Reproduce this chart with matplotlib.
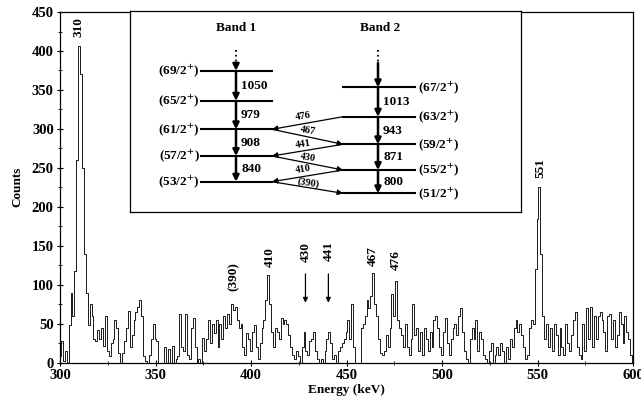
import numpy as np
import matplotlib.pyplot as plt
from matplotlib.ticker import MultipleLocator

plt.rcParams['font.family'] = 'Liberation Serif'
plt.rcParams['font.weight'] = 'bold'
plt.rcParams['mathtext.fontset'] = 'stix'

# spectrum, 1 keV bins from 300 to 600 keV
energy = np.arange(300, 601)
counts = [
    8, 28, 2, 15, 0, 48, 90, 60, 118, 260,
    407, 370, 250, 140, 90, 48, 75, 60, 30, 28,
    42, 30, 44, 22, 60, 15, 8, 25, 30, 55,
    45, 12, 0, 12, 28, 45, 67, 20, 35, 55,
    65, 72, 80, 60, 8, 2, 0, 10, 30, 50,
    30, 28, 0, 0, 0, 20, 0, 18, 0, 22,
    0, 5, 8, 62, 20, 15, 63, 10, 5, 45,
    58, 20, 0, 5, 0, 32, 15, 30, 55, 25,
    50, 38, 55, 20, 50, 30, 60, 45, 62, 50,
    75, 68, 72, 55, 45, 50, 20, 10, 38, 30,
    15, 40, 48, 20, 5, 25, 45, 55, 80, 112,
    75, 40, 20, 45, 40, 30, 58, 50, 55, 50,
    35, 20, 10, 5, 15, 8, 0, 20, 40, 15,
    10, 28, 30, 40, 15, 5, 0, 5, 0, 15,
    30, 40, 25, 5, 10, 0, 15, 20, 25, 30,
    40, 55, 30, 75, 20, 0, 0, 0, 45, 50,
    60, 80, 70, 85, 115, 75, 60, 30, 12, 10,
    15, 35, 20, 45, 88, 60, 105, 55, 45, 35,
    20, 50, 20, 10, 30, 75, 35, 45, 15, 40,
    10, 45, 30, 15, 40, 20, 55, 60, 45, 20,
    10, 40, 58, 25, 10, 30, 45, 50, 35, 60,
    70, 40, 15, 5, 0, 30, 45, 30, 55, 15,
    40, 30, 10, 5, 0, 15, 25, 0, 10, 20,
    10, 25, 15, 0, 20, 5, 30, 20, 45, 55,
    40, 50, 35, 20, 5, 10, 45, 55, 50, 120,
    185, 225, 140, 60, 30, 50, 20, 45, 15, 50,
    35, 10, 45, 20, 10, 50, 25, 15, 35, 55,
    65, 20, 10, 5, 50, 15, 70, 30, 72, 20,
    60, 30, 60, 65, 55, 40, 15, 60, 62, 30,
    55, 20, 35, 65, 50, 25, 60, 40, 30, 10,
    0,
]

peak_labels = ['310', '(390)', '410', '430', '441', '467', '476', '551']
peak_x = [309.5, 390.8, 410, 428.5, 440.5, 464, 475.7, 551.5]
peak_y = [431, 110, 136, 142, 143, 137, 132, 250]
arrow_peaks = ['430', '441']

band1_spins = ['69/2', '65/2', '61/2', '57/2', '53/2']
band1_gammas = ['1050', '979', '908', '840']
band2_spins = ['67/2', '63/2', '59/2', '55/2', '51/2']
band2_gammas = ['1013', '943', '871', '800']
link_gammas = ['476', '467', '441', '430', '410', '(390)']

fig = plt.figure(figsize=(6.41, 4.04), dpi=100)
ax = fig.add_axes([0.0936, 0.1022, 0.894, 0.868])

ax.step(energy, counts, where='mid', color='#1a1a1a', lw=0.7)
ax.set_xlim(300, 600)
ax.set_ylim(0, 450)
ax.xaxis.set_major_locator(MultipleLocator(50))
ax.xaxis.set_minor_locator(MultipleLocator(25))
ax.yaxis.set_major_locator(MultipleLocator(50))
ax.yaxis.set_minor_locator(MultipleLocator(25))
ax.tick_params(which='both', direction='inout', labelsize=10.5, pad=2)
ax.tick_params(which='major', length=5)
ax.tick_params(which='minor', length=3)
for sp in ax.spines.values():
    sp.set_linewidth(0.9)

fig.text(0.54, 0.035, 'Energy (keV)', ha='center', va='center', fontsize=9.5)
fig.text(0.027, 0.537, 'Counts', ha='center', va='center', rotation=90, fontsize=9.5)

for lab, x, y in zip(peak_labels, peak_x, peak_y):
    ax.text(x, y, lab, rotation=90, ha='center', va='center', fontsize=9.5)
    if lab in arrow_peaks:
        ax.annotate('', xy=(x, 77), xytext=(x, 114),
                    arrowprops=dict(arrowstyle='-|>', lw=0.9, color='black',
                                    mutation_scale=7, shrinkA=0, shrinkB=0))

# level scheme inset, drawn in pixel-like coordinates
ins = fig.add_axes([130 / 641, 1 - 212 / 404, 391 / 641, 201 / 404])
ins.set_xlim(130, 521)
ins.set_ylim(212, 11)
ins.set_xticks([])
ins.set_yticks([])
for sp in ins.spines.values():
    sp.set_linewidth(0.9)

b1_x0, b1_x1, b1_arrow = 201, 272, 236
b2_x0, b2_x1, b2_arrow = 343, 415, 378
b1_y = [70.7, 100.7, 129.3, 156, 181.7]
b2_y = [87.3, 116.7, 144.3, 170, 193.3]
fs = 9.5

ins.text(b1_arrow, 28, 'Band 1', ha='center', va='center', fontsize=fs)
ins.text(b2_arrow + 2, 28, 'Band 2', ha='center', va='center', fontsize=fs)

head = dict(arrowstyle='-|>', lw=1.8, color='black', mutation_scale=9,
            shrinkA=0, shrinkB=0)
thin = dict(arrowstyle='-|>', lw=0.9, color='black', mutation_scale=8,
            shrinkA=0, shrinkB=0)


def draw_band(x0, x1, xa, ys, spins, gammas, spin_side):
    for y, s in zip(ys, spins):
        ins.plot([x0, x1], [y, y], color='black', lw=1.5)
        lab = '(' + s + '$^{+}$)'
        if spin_side == 'left':
            ins.text(x0 - 1, y, lab, ha='right', va='center', fontsize=fs)
        else:
            ins.text(x1 + 3, y, lab, ha='left', va='center', fontsize=fs)
    ins.plot([xa, xa], [50, 63], color='black', lw=1.3, ls=':')
    ins.annotate('', xy=(xa, ys[0]), xytext=(xa, 63), arrowprops=head)
    for i, g in enumerate(gammas):
        ins.annotate('', xy=(xa, ys[i + 1]), xytext=(xa, ys[i]), arrowprops=head)
        ins.text(xa + 5, (ys[i] + ys[i + 1]) / 2, g, ha='left', va='center',
                 fontsize=fs)


draw_band(b1_x0, b1_x1, b1_arrow, b1_y, band1_spins, band1_gammas, 'left')
draw_band(b2_x0, b2_x1, b2_arrow, b2_y, band2_spins, band2_gammas, 'right')

for k in range(3):
    i = 2 * k
    ins.annotate('', xy=(b1_x1, b1_y[k + 2]), xytext=(b2_x0, b2_y[k + 1]),
                 arrowprops=thin)
    ins.annotate('', xy=(b2_x0, b2_y[k + 2]), xytext=(b1_x1, b1_y[k + 2]),
                 arrowprops=thin)
    ins.text(303, b2_y[k + 1] - 0.5, link_gammas[i], ha='center', va='center',
             fontsize=7.5, rotation=9)
    ins.text(308, b1_y[k + 2] + 1.5, link_gammas[i + 1], ha='center',
             va='center', fontsize=7.5, rotation=-9)

fig.savefig('out.png', dpi=100)
